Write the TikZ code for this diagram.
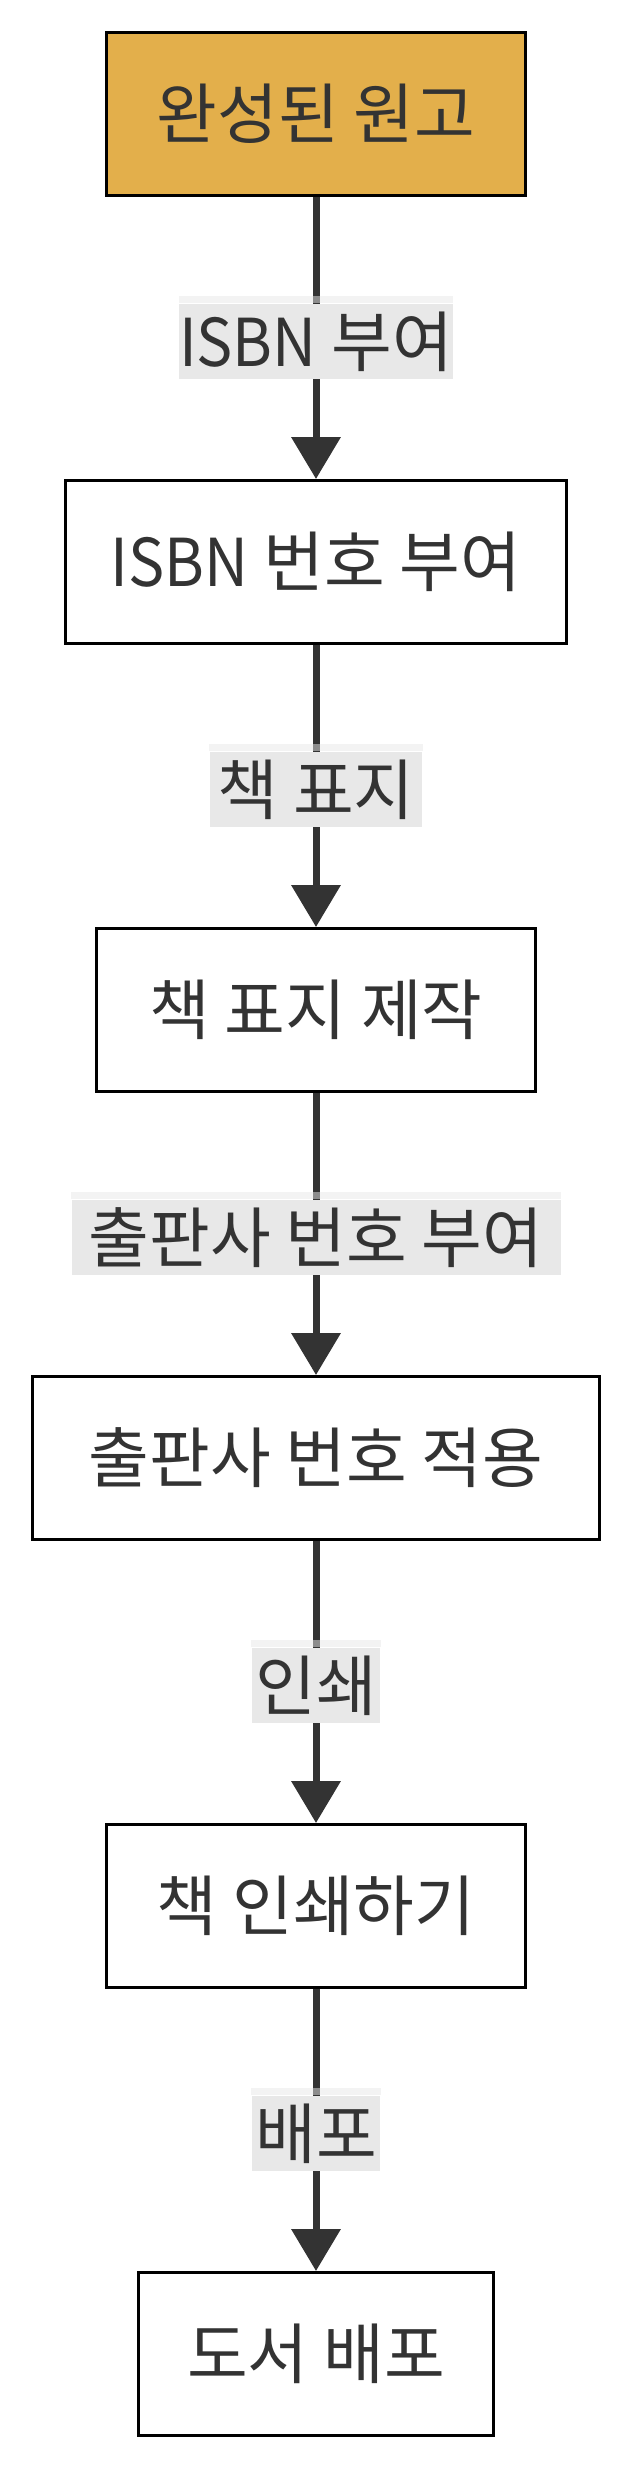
\documentclass[tikz,border=0pt]{standalone}
\usepackage{fontspec}
\setmainfont{Noto Sans CJK KR}
\usetikzlibrary{arrows.meta}
\definecolor{boxfill}{HTML}{E3AF4B}
\definecolor{txt}{HTML}{333333}
\definecolor{lblbg}{HTML}{E8E8E8}
\newcommand{\latn}[1]{\scalebox{0.92}[1]{#1}}
\begin{document}
\begin{tikzpicture}[x=0.5pt,y=-0.5pt,
  stepbox/.style={draw=black, line width=1.5pt, fill=white, text=txt, inner sep=0pt,
    minimum height=81.5pt, font=\fontsize{33pt}{39pt}\selectfont},
  startbox/.style={stepbox, fill=boxfill},
  lbl/.style={fill=lblbg, text=txt, inner sep=0pt, minimum height=37.75pt,
    font=\fontsize{33pt}{39pt}\selectfont},
  flow/.style={draw=txt, line width=3.5pt, -{Triangle[width=24pt,length=21pt]}},
  strip/.style={fill=lblbg, fill opacity=0.5}
]
\useasboundingbox (0,0) rectangle (628,2468);
\fill[white] (0,0) rectangle (628,2468);

\node[startbox, minimum width=209.5pt] (n1) at (316,114) {완성된 원고};
\node[stepbox, minimum width=250.5pt] (n2) at (316,562) {\latn{ISBN} 번호 부여};
\node[stepbox, minimum width=219.5pt] (n3) at (316,1010) {책 표지 제작};
\node[stepbox, minimum width=283.5pt] (n4) at (316,1458) {출판사 번호 적용};
\node[stepbox, minimum width=209.5pt] (n5) at (316,1906) {책 인쇄하기};
\node[stepbox, minimum width=177.5pt] (n6) at (316,2354) {도서 배포};

\draw[flow] (n1) -- (n2);
\draw[flow] (n2) -- (n3);
\draw[flow] (n3) -- (n4);
\draw[flow] (n4) -- (n5);
\draw[flow] (n5) -- (n6);

\node[lbl, minimum width=136.5pt] (l1) at (316,341.5) {\latn{ISBN} 부여};
\node[lbl, minimum width=106.25pt] (l2) at (316,789.5) {책 표지};
\node[lbl, minimum width=244.5pt] (l3) at (316,1237.5) {출판사 번호 부여};
\node[lbl, minimum width=64.25pt] (l4) at (316,1685.5) {인쇄};
\node[lbl, minimum width=64.25pt] (l5) at (316,2133.5) {배포};

\foreach \l in {l1,l2,l3,l4,l5}{
  \fill[strip] ([yshift=3.75pt]\l.north west) rectangle (\l.north east);
}
\end{tikzpicture}
\end{document}
